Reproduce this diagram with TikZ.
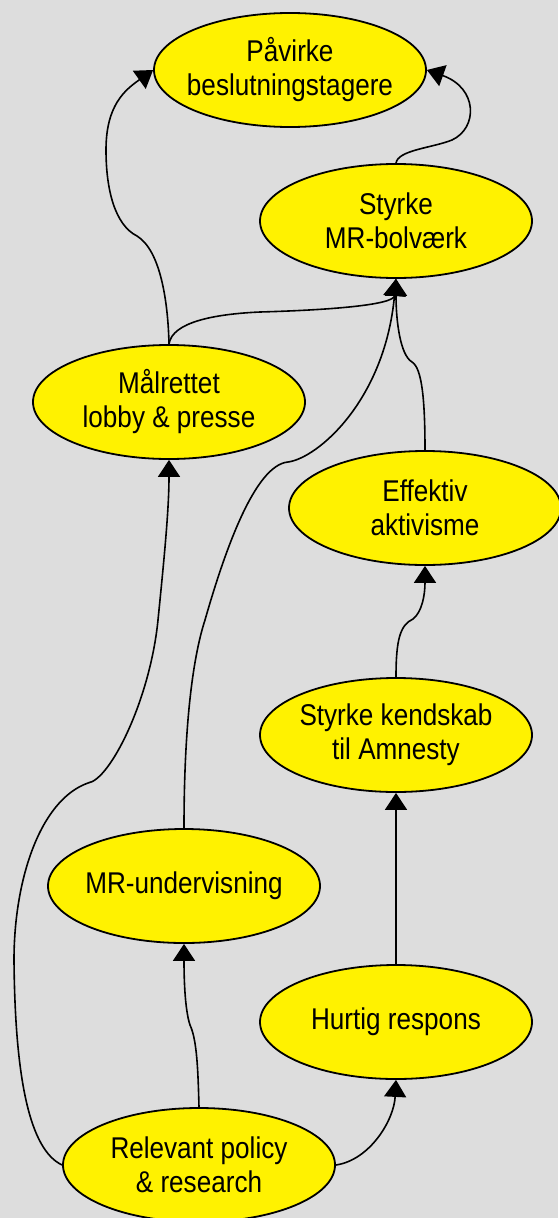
\documentclass[tikz,border=0pt]{standalone}
\usepackage{fontspec}
\setmainfont{Liberation Sans}[FakeStretch=0.87]
\usetikzlibrary{shapes.geometric,arrows.meta}
\definecolor{bggray}{RGB}{221,221,221}

\begin{document}
\begin{tikzpicture}[x=1pt, y=-1pt,
    >={Triangle[length=17pt,width=22pt]},
    goal/.style={ellipse, draw, line width=1.8pt, fill=yellow,
        minimum width=272pt, minimum height=114pt,
        inner sep=0pt, inner xsep=-12pt, align=center,
        font=\fontsize{30}{34}\selectfont},
    link/.style={line width=1.6pt}]
            \fill[bggray] (0,0) rectangle (558,1218);
            \useasboundingbox (0,0) rectangle (558,1218);

            \node[goal] (paavirke) at (290,70) {Påvirke\\beslutningstagere};
            \node[goal] (bolvaerk) at (396,221) {Styrke\\MR-bolværk};
            \node[goal] (lobby) at (169,402) {Målrettet\\lobby \& presse};
            \node[goal] (aktivisme) at (425,508) {Effektiv\\aktivisme};
            \node[goal] (kendskab) at (396,735) {Styrke kendskab\\til Amnesty};
            \node[goal] (undervisning) at (184,886) {MR-undervisning};
            \node[goal] (respons) at (396,1022) {Hurtig respons};
            \node[goal] (policy) at (199,1165) {Relevant policy\\\& research};

            \draw[link,->] (policy.west) .. controls (30,1150) and (15,1080) .. (14,960)
                .. controls (14,880) and (40,800) .. (88,783)
                .. controls (110,780) and (150,700) .. (158,620)
                .. controls (164,560) and (169,510) .. (lobby.south);
            \draw[link,->] (policy.north) .. controls (198,1070) and (197,1040) .. (190,1025)
                .. controls (185,1010) and (184,980) .. (undervisning.south);
            \draw[link,->] (policy.east) .. controls (370,1160) and (394,1120) .. (respons.south);
            \draw[link,->] (respons.north) -- (kendskab.south);
            \draw[link,->] (kendskab.north) .. controls (396,640) and (400,625) .. (413,619)
                .. controls (422,612) and (425,595) .. (aktivisme.south);
            \draw[link,->] (aktivisme.north) .. controls (425,400) and (422,368) .. (412,362)
                .. controls (400,355) and (396,320) .. (bolvaerk.south);
            \draw[link,->] (undervisning.north) .. controls (184,730) and (192,660) .. (205,620)
                .. controls (225,550) and (255,465) .. (288,462)
                .. controls (318,458) and (385,400) .. (bolvaerk.south);
            \draw[link,->] (lobby.north) .. controls (172,322) and (215,314) .. (260,312)
                .. controls (330,310) and (394,305) .. (bolvaerk.south);
            \draw[link,->] (lobby.north) .. controls (168,300) and (160,250) .. (137,236)
                .. controls (115,225) and (106,190) .. (106,150)
                .. controls (106,105) and (125,90) .. (paavirke.west);
            \draw[link,->] (bolvaerk.north) .. controls (398,150) and (432,148) .. (452,140)
                .. controls (478,128) and (478,88) .. (paavirke.east);
        \end{tikzpicture}
\end{document}
